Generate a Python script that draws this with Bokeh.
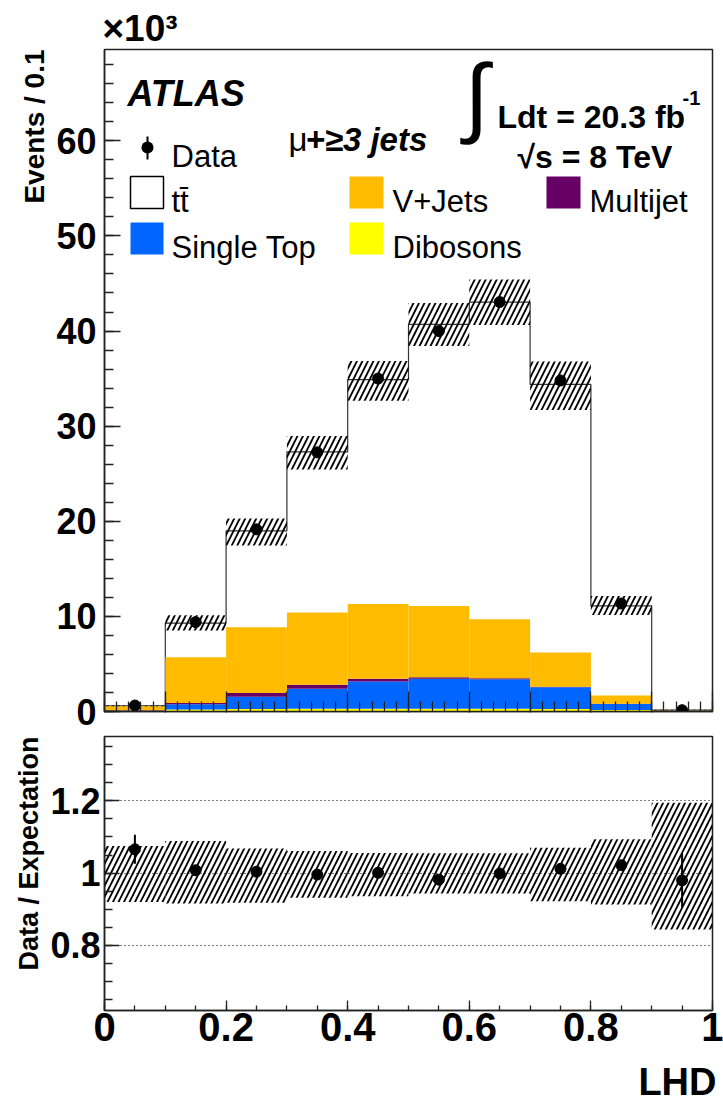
import numpy as np
from math import pi
from bokeh.plotting import figure
from bokeh.layouts import column
from bokeh.models import Range1d, FixedTicker, PrintfTickFormatter, Label, BoxAnnotation, Title
from bokeh.embed import file_html
from bokeh.resources import INLINE

# ---------------- data (events in units of 10^3) ----------------
bin_edges = [0.0, 0.1, 0.2, 0.3, 0.4, 0.5, 0.6, 0.7, 0.8, 0.9, 1.0]
dibosons  = [0.03, 0.20, 0.25, 0.30, 0.30, 0.30, 0.30, 0.25, 0.15, 0.01]
singletop = [0.05, 0.55, 1.30, 2.10, 2.85, 3.15, 3.10, 2.30, 0.65, 0.02]
multijet  = [0.05, 0.15, 0.40, 0.40, 0.30, 0.15, 0.10, 0.04, 0.02, 0.00]
vjets     = [0.42, 4.80, 6.90, 7.60, 7.85, 7.50, 6.20, 3.60, 0.85, 0.05]
ttbar     = [0.04, 3.60, 10.15, 16.90, 23.60, 29.60, 33.35, 28.20, 9.43, 0.07]
data      = [0.63, 9.40, 19.15, 27.25, 35.00, 40.00, 43.05, 34.80, 11.35, 0.14]

ratio     = [1.066, 1.008, 1.004, 0.996, 1.001, 0.982, 0.999, 1.012, 1.022, 0.980]
ratio_err = [0.040, 0.006, 0.005, 0.004, 0.004, 0.004, 0.004, 0.004, 0.008, 0.075]
band_hi   = [1.075, 1.089, 1.068, 1.061, 1.056, 1.055, 1.055, 1.070, 1.094, 1.195]
band_lo   = [0.920, 0.916, 0.918, 0.932, 0.936, 0.944, 0.944, 0.922, 0.913, 0.844]

y_ticks_top = [0, 10, 20, 30, 40, 50, 60]
x_ticks_ratio = [0, 0.2, 0.4, 0.6, 0.8, 1.0]
y_ticks_ratio = [0.8, 1.0, 1.2]

# ---------------- derived ----------------
edges = np.array(bin_edges)
left, right = edges[:-1], edges[1:]
centers = 0.5 * (left + right)
stack = np.vstack([dibosons, singletop, multijet, vjets, ttbar])
cum = np.cumsum(stack, axis=0)
bottoms = np.vstack([np.zeros(len(left)), cum[:-1]])
total = cum[-1]

FONT = "Liberation Sans"
colors = {"ttbar": "white", "vjets": "#FFBB00", "multijet": "#660066",
          "singletop": "#0066FF", "dibosons": "#FFFF00"}
comp_colors = [colors["dibosons"], colors["singletop"], colors["multijet"], colors["vjets"]]

FRAME_L, FRAME_W = 104, 608
HATCH = dict(hatch_pattern="/", hatch_color="black", hatch_weight=1.8, hatch_scale=11)


def style_axes(p):
    p.outline_line_color = "#222222"
    p.outline_line_width = 1.5
    p.xgrid.visible = False
    p.ygrid.visible = False
    for ax in (p.xaxis[0], p.yaxis[0]):
        ax.axis_line_color = "#222222"
        ax.axis_line_width = 1.5
        ax.major_tick_line_color = "#222222"
        ax.minor_tick_line_color = "#222222"
        ax.major_tick_line_width = 1.3
        ax.minor_tick_line_width = 1.3
        ax.major_tick_out = 0
        ax.minor_tick_out = 0
        ax.major_label_text_font = FONT
        ax.major_label_text_font_style = "bold"
        ax.major_label_text_color = "black"


def lab(p, x, y, text, size, style="normal", align="left", baseline="alphabetic", angle=0.0):
    p.add_layout(Label(x=x, y=y, x_units="screen", y_units="screen", text=text,
                       text_font=FONT, text_font_size=f"{size}px", text_font_style=style,
                       text_align=align, text_baseline=baseline, angle=angle,
                       text_color="black"))


def box(p, gx0, gy0, gx1, gy1, fill, line=None, frame_bottom=712, **kw):
    p.add_layout(BoxAnnotation(left=gx0 - FRAME_L, right=gx1 - FRAME_L,
                               top=frame_bottom - gy0, bottom=frame_bottom - gy1,
                               left_units="screen", right_units="screen",
                               top_units="screen", bottom_units="screen",
                               fill_color=fill, fill_alpha=1.0,
                               line_color=line, line_alpha=1.0 if line else 0.0,
                               line_width=1.5, level="overlay", **kw))


def side_title(p, text, size, place, align, standoff, offset=0):
    t = Title(text=text, align=align, standoff=standoff, offset=offset,
              text_font=FONT, text_font_size=f"{size}px", text_font_style="bold",
              text_color="black")
    p.add_layout(t, place)


# ---------------- top panel ----------------
p1 = figure(frame_width=FRAME_W, frame_height=662, output_backend="svg", toolbar_location=None,
            x_range=Range1d(0, 1), y_range=Range1d(0, 69.6),
            min_border_left=FRAME_L, min_border_right=11, min_border_top=49, min_border_bottom=24)
p1.background_fill_color = "white"
style_axes(p1)
p1.title.text = "×10³"
p1.title.align = "left"
p1.title.offset = -2
p1.title.standoff = 2
p1.title.text_font = FONT
p1.title.text_font_size = "37px"
p1.title.text_font_style = "bold"
p1.title.text_color = "black"
side_title(p1, "Events / 0.1", 28, "left", "right", 8)

p1.yaxis.ticker = FixedTicker(ticks=y_ticks_top, minor_ticks=list(np.arange(0, 69, 2)))
p1.yaxis.major_tick_in = 16
p1.yaxis.minor_tick_in = 9
p1.yaxis.major_label_text_font_size = "36px"
p1.yaxis.major_label_standoff = 8
p1.xaxis.ticker = FixedTicker(ticks=list(np.round(np.arange(0, 1.01, 0.1), 2)),
                              minor_ticks=list(np.round(np.arange(0, 1.001, 0.02), 3)))
p1.xaxis.major_tick_in = 20
p1.xaxis.minor_tick_in = 10
p1.xaxis.major_label_text_font_size = "1px"
p1.xaxis.major_label_standoff = 0

# ttbar outline (step)
step_y = list(total) + [total[-1]]
p1.step(x=list(edges), y=step_y, mode="after", line_color="#333333", line_width=1.2)
# stacked backgrounds
for i, c in enumerate(comp_colors):
    p1.quad(left=left, right=right, bottom=bottoms[i], top=cum[i],
            fill_color=c, line_color=None)
# systematic band
p1.quad(left=left, right=right, bottom=total * np.array(band_lo), top=total * np.array(band_hi),
        fill_color=None, line_color=None, **HATCH)
# data
p1.scatter(x=centers, y=data, size=11, color="black")

# texts in top panel (screen coords relative to frame bottom-left)
lab(p1, 23, 618, "ATLAS", 36, "bold italic")
lab(p1, 184, 572, "μ", 33)
lab(p1, 201, 572, "+≥3 jets", 33, "bold italic")
lab(p1, 372, 616, "∫", 88, baseline="middle", align="center")
lab(p1, 393, 595, "Ldt = 20.3 fb", 32, "bold")
lab(p1, 578, 614, "-1", 20, "bold")
lab(p1, 413, 555, "√s = 8 TeV", 32, "bold")

# legend
box(p1, 141, 142, 153, 154, "black", border_radius=6)
box(p1, 146, 137, 148, 160, "black")
lab(p1, 171 - FRAME_L, 712 - 157, "Data", 31)
box(p1, 130, 177, 163, 209, colors["ttbar"], line="black")
lab(p1, 171 - FRAME_L, 712 - 202, "tt\u0304", 31)
box(p1, 349, 177, 383, 209, colors["vjets"])
lab(p1, 392 - FRAME_L, 712 - 202, "V+Jets", 31)
box(p1, 546, 177, 580, 209, colors["multijet"])
lab(p1, 589 - FRAME_L, 712 - 202, "Multijet", 31)
box(p1, 130, 223, 163, 255, colors["singletop"])
lab(p1, 171 - FRAME_L, 712 - 248, "Single Top", 31)
box(p1, 349, 223, 383, 255, colors["dibosons"])
lab(p1, 392 - FRAME_L, 712 - 248, "Dibosons", 31)

# ---------------- ratio panel ----------------
p2 = figure(frame_width=FRAME_W, frame_height=274, output_backend="svg", toolbar_location=None,
            x_range=Range1d(0, 1), y_range=Range1d(0.62, 1.378),
            min_border_left=FRAME_L, min_border_right=11, min_border_top=1, min_border_bottom=0)
style_axes(p2)
p2.title.visible = False
p2.yaxis.ticker = FixedTicker(ticks=y_ticks_ratio,
                              minor_ticks=list(np.round(np.arange(0.65, 1.36, 0.05), 2)))
p2.yaxis.formatter = PrintfTickFormatter(format="%g")
p2.yaxis.major_tick_in = 15
p2.yaxis.minor_tick_in = 8
p2.yaxis.major_label_text_font_size = "36px"
p2.yaxis.major_label_standoff = 4
p2.xaxis.ticker = FixedTicker(ticks=x_ticks_ratio,
                              minor_ticks=list(np.round(np.arange(0, 1.001, 0.05), 3)))
p2.xaxis.formatter = PrintfTickFormatter(format="%g")
p2.xaxis.major_tick_in = 10
p2.xaxis.minor_tick_in = 5
p2.xaxis.major_label_text_font_size = "40px"
p2.xaxis.major_label_standoff = 2
p2.ygrid.visible = True
p2.ygrid.ticker = FixedTicker(ticks=y_ticks_ratio)
p2.ygrid.grid_line_color = "black"
p2.ygrid.grid_line_dash = "1 3"
p2.ygrid.grid_line_width = 1.2
side_title(p2, "Data / Expectation", 27, "left", "right", 7)
side_title(p2, "LHD", 38, "below", "right", 30, offset=-4)

p2.quad(left=left, right=right, bottom=band_lo, top=band_hi,
        fill_color=None, line_color=None, **HATCH)
r = np.array(ratio)
e = np.array(ratio_err)
p2.segment(x0=centers, y0=r - e, x1=centers, y1=r + e, line_color="black", line_width=2)
p2.scatter(x=centers, y=ratio, size=11, color="black")

layout = column(p1, p2, spacing=0)
open("out.html", "w").write(file_html(layout, INLINE))
